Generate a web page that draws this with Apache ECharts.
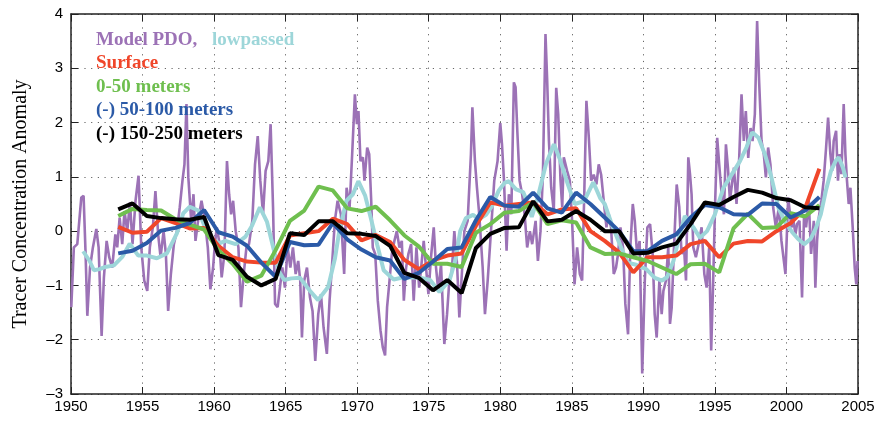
<!DOCTYPE html>
<html>
<head>
<meta charset="utf-8">
<script src="https://cdn.jsdelivr.net/npm/echarts@6/dist/echarts.min.js"></script>
<style>html,body{margin:0;padding:0;background:#fff}#c{width:878px;height:422px}</style>
</head>
<body>
<div id="c"></div>
<script>
const xTicks = [1950,1955,1960,1965,1970,1975,1980,1985,1990,1995,2000,2005];
const yTicks = [-3,-2,-1,0,1,2,3,4];

// Model PDO (monthly, read at peaks/troughs): [year, value]
const pdoPoints = [
[1950.02,-1.40],[1950.2,-0.30],[1950.44,-0.24],[1950.72,0.62],[1950.88,0.65],[1951.02,-0.42],[1951.14,-1.56],[1951.33,-0.67],[1951.53,-0.30],[1951.77,0.04],[1951.93,-0.30],[1952.14,-1.93],[1952.3,-0.85],[1952.49,-0.18],[1952.67,-0.48],[1952.88,-0.67],[1953.1,-0.06],[1953.23,-0.30],[1953.4,0.25],[1953.58,-0.24],[1953.74,0.37],[1953.93,0.00],[1954.12,0.53],[1954.3,-0.24],[1954.51,0.56],[1954.72,1.02],[1954.91,-0.30],[1955.12,-0.91],[1955.33,-1.10],[1955.51,-0.30],[1955.72,0.07],[1955.9,0.74],[1956.09,-0.06],[1956.26,-0.48],[1956.47,0.00],[1956.63,-0.42],[1956.79,-1.47],[1956.98,-0.79],[1957.19,-0.24],[1957.4,0.00],[1957.6,0.44],[1957.79,0.93],[1957.93,1.23],[1958.07,2.34],[1958.2,0.99],[1958.4,0.19],[1958.56,0.68],[1958.7,-0.18],[1958.88,0.19],[1959.12,0.56],[1959.33,0.25],[1959.56,-0.30],[1959.74,-1.07],[1959.93,-0.67],
[1960.05,-0.25],[1960.19,0.07],[1960.35,-0.18],[1960.53,-0.85],[1960.72,-0.42],[1960.9,1.29],[1961.05,0.68],[1961.19,0.31],[1961.33,0.56],[1961.51,0.00],[1961.7,-0.30],[1961.88,-1.40],[1962.07,-0.79],[1962.26,-0.30],[1962.44,-0.24],[1962.67,0.19],[1962.86,1.23],[1963.05,1.75],[1963.23,0.93],[1963.42,0.31],[1963.6,1.11],[1963.79,1.29],[1963.95,1.97],[1964.12,0.44],[1964.26,-1.34],[1964.44,-1.40],[1964.6,-1.04],[1964.77,-0.67],[1964.95,-1.04],[1965.14,-0.30],[1965.33,-0.67],[1965.51,-0.30],[1965.7,-0.79],[1965.88,-0.55],[1966.02,-0.91],[1966.14,-1.96],[1966.3,-0.91],[1966.49,-0.67],[1966.7,-1.22],[1966.88,-1.47],[1967.07,-2.39],[1967.28,-1.53],[1967.47,-1.16],[1967.65,-1.77],[1967.88,-2.26],[1968.07,-1.28],[1968.26,-0.55],[1968.44,0.19],[1968.63,0.56],[1968.86,0.31],[1969.09,-0.79],[1969.26,0.80],[1969.47,0.44],[1969.65,1.42],[1969.84,2.52],
[1969.98,1.97],[1970.09,2.21],[1970.23,1.29],[1970.4,1.36],[1970.51,0.93],[1970.7,1.54],[1970.84,1.42],[1970.98,0.56],[1971.09,-0.30],[1971.26,-0.42],[1971.44,-1.28],[1971.63,-1.83],[1971.79,-2.14],[1971.95,-2.29],[1972.09,-1.40],[1972.26,-0.91],[1972.42,-0.42],[1972.6,-0.18],[1972.77,0.00],[1972.95,-0.30],[1973.12,-0.18],[1973.26,-1.28],[1973.42,-0.67],[1973.58,-0.42],[1973.77,-0.24],[1973.95,-1.28],[1974.14,-0.30],[1974.33,-1.04],[1974.47,-0.67],[1974.65,-0.18],[1974.81,-0.67],[1974.98,-1.16],[1975.16,-0.48],[1975.35,0.07],[1975.51,-0.67],[1975.67,-1.10],[1975.86,-0.61],[1976.09,-2.08],[1976.28,-1.53],[1976.44,-0.91],[1976.6,-0.79],[1976.79,0.00],[1976.98,-0.61],[1977.14,-1.59],[1977.3,-0.85],[1977.49,0.00],[1977.72,0.19],[1977.95,1.42],[1978.05,2.28],[1978.23,1.29],[1978.37,0.80],[1978.53,0.31],[1978.77,-0.67],[1978.93,-1.53],[1979.12,-0.91],[1979.35,0.00],[1979.58,0.93],[1979.81,1.29],
[1980.0,1.99],[1980.12,1.60],[1980.26,0.93],[1980.44,-0.36],[1980.6,0.68],[1980.77,0.31],[1980.95,2.74],[1981.07,2.65],[1981.19,1.85],[1981.35,0.93],[1981.53,0.68],[1981.7,0.31],[1981.88,-0.30],[1982.07,0.00],[1982.23,-0.24],[1982.47,0.19],[1982.63,-0.55],[1982.81,0.00],[1982.98,1.04],[1983.16,3.63],[1983.28,2.76],[1983.4,1.66],[1983.56,0.80],[1983.74,0.37],[1983.91,2.64],[1984.05,2.15],[1984.21,0.93],[1984.33,0.44],[1984.44,1.36],[1984.67,1.11],[1984.86,0.93],[1985.02,0.19],[1985.19,-0.98],[1985.37,-0.30],[1985.56,-0.79],[1985.72,-0.91],[1985.88,0.80],[1986.02,2.40],[1986.19,1.72],[1986.35,0.93],[1986.53,1.04],[1986.72,0.86],[1986.88,1.23],[1987.05,1.04],[1987.23,0.56],[1987.42,0.07],[1987.58,0.31],[1987.74,0.07],[1987.93,-0.79],[1988.09,-0.67],[1988.23,-0.42],[1988.4,0.07],[1988.58,-0.30],[1988.74,-1.34],[1988.93,-1.90],[1989.09,-0.30],[1989.26,0.50],[1989.4,0.19],[1989.56,-0.42],[1989.74,-0.18],[1989.92,-2.62],
[1990.1,-0.91],[1990.28,0.07],[1990.47,0.13],[1990.65,-0.42],[1990.79,-1.53],[1990.93,-1.96],[1991.12,-0.91],[1991.28,-1.53],[1991.4,-1.10],[1991.58,-0.91],[1991.74,-0.30],[1991.86,-1.71],[1991.98,-1.41],[1992.14,-0.30],[1992.33,0.86],[1992.51,0.44],[1992.67,-0.42],[1992.84,-0.30],[1992.98,-0.91],[1993.14,1.36],[1993.26,1.05],[1993.37,0.68],[1993.49,-0.30],[1993.67,-0.48],[1993.86,-0.24],[1994.07,0.07],[1994.26,-0.79],[1994.42,-1.04],[1994.6,-0.30],[1994.74,-2.20],[1994.88,-0.91],[1995.02,0.56],[1995.16,1.72],[1995.3,1.23],[1995.47,0.68],[1995.63,0.31],[1995.77,1.60],[1995.91,1.17],[1996.05,0.56],[1996.19,0.86],[1996.33,1.17],[1996.51,0.50],[1996.7,1.36],[1996.86,2.52],[1997.02,1.66],[1997.16,2.21],[1997.33,1.35],[1997.49,1.90],[1997.63,1.66],[1997.79,2.15],[1997.95,3.87],[1998.09,2.76],[1998.26,1.66],[1998.42,1.41],[1998.56,0.99],[1998.72,1.54],[1998.88,1.23],[1999.07,0.44],[1999.26,0.07],[1999.47,0.44],[1999.65,-0.18],[1999.93,-0.79],
[2000.12,0.62],[2000.21,0.65],[2000.35,0.07],[2000.49,0.19],[2000.63,-0.06],[2000.74,0.13],[2000.91,0.19],[2001.09,-1.22],[2001.23,0.31],[2001.37,0.07],[2001.56,0.56],[2001.72,-0.42],[2001.91,0.19],[2002.02,-1.04],[2002.14,-0.18],[2002.26,0.25],[2002.44,0.56],[2002.6,0.93],[2002.77,1.54],[2002.91,2.09],[2003.07,1.42],[2003.19,1.11],[2003.3,1.66],[2003.47,1.85],[2003.6,0.93],[2003.72,1.42],[2003.84,1.05],[2004.0,2.34],[2004.12,1.42],[2004.23,0.93],[2004.35,0.50],[2004.47,0.80],[2004.63,0.07],[2004.77,-0.67],[2004.88,-0.98],[2004.97,-0.55]
];

// lowpassed Model PDO: [year, value]
const lowpassPoints = [
[1950.85,-0.37],[1951.3,-0.55],[1951.6,-0.72],[1952.0,-0.70],[1952.4,-0.66],[1953.0,-0.63],[1953.6,-0.47],[1954.1,-0.23],[1954.7,-0.45],[1955.3,-0.45],[1956.0,-0.50],[1956.7,-0.41],[1957.4,-0.04],[1957.85,0.33],[1958.3,0.45],[1958.9,0.38],[1959.35,0.08],[1959.9,-0.17],[1960.4,-0.22],[1960.8,-0.18],[1961.5,-0.24],[1962.2,-0.10],[1962.65,0.10],[1963.2,0.44],[1963.7,0.17],[1964.15,-0.32],[1964.55,-0.75],[1964.9,-0.90],[1965.4,-0.87],[1966.0,-0.86],[1966.7,-1.10],[1967.27,-1.27],[1967.97,-1.03],[1968.45,-0.50],[1968.75,0.00],[1969.25,0.56],[1969.7,0.68],[1970.08,0.92],[1970.55,0.66],[1971.0,0.19],[1971.4,-0.25],[1971.85,-0.72],[1972.55,-0.89],[1973.1,-0.86],[1973.8,-0.85],[1974.4,-0.86],[1975.1,-0.90],[1975.75,-1.12],[1976.45,-0.91],[1976.9,-0.50],[1977.2,0.00],[1977.6,0.24],[1978.1,0.30],[1978.5,0.22],[1979.0,0.30],[1979.4,0.45],[1979.9,0.75],[1980.3,0.89],[1980.6,0.92],[1981.1,0.77],[1981.6,0.72],[1981.95,0.50],[1982.2,0.26],[1982.6,0.60],[1983.2,1.24],[1983.75,1.60],[1984.2,1.30],[1984.7,0.88],[1985.2,0.50],[1985.85,0.55],[1986.5,0.90],[1987.0,0.60],[1987.3,0.50],[1987.8,0.12],[1988.35,-0.24],[1988.9,-0.58],[1989.5,-0.62],[1990.2,-0.70],[1990.8,-0.86],[1991.3,-0.91],[1991.65,-0.85],[1992.1,-0.55],[1992.55,-0.06],[1992.9,0.28],[1993.5,0.07],[1993.95,-0.12],[1994.45,0.00],[1995.0,0.31],[1995.6,0.80],[1996.05,0.99],[1996.75,1.29],[1997.2,1.54],[1997.6,1.82],[1998.05,1.72],[1998.5,1.41],[1998.95,0.99],[1999.45,0.42],[1999.95,0.15],[2000.4,-0.02],[2000.8,-0.14],[2001.25,-0.24],[2001.7,-0.14],[2002.05,0.05],[2002.4,0.31],[2002.75,0.74],[2003.1,1.10],[2003.45,1.30],[2003.65,1.36],[2003.95,1.17],[2004.13,0.99]
];

// annual tracer anomalies (plotted at year + 0.3)
const annualYears = [1953.3,1954.3,1955.3,1956.3,1957.3,1958.3,1959.3,1960.3,1961.3,1962.3,1963.3,1964.3,1965.3,1966.3,1967.3,1968.3,1969.3,1970.3,1971.3,1972.3,1973.3,1974.3,1975.3,1976.3,1977.3,1978.3,1979.3,1980.3,1981.3,1982.3,1983.3,1984.3,1985.3,1986.3,1987.3,1988.3,1989.3,1990.3,1991.3,1992.3,1993.3,1994.3,1995.3,1996.3,1997.3,1998.3,1999.3,2000.3,2001.3,2002.3];
const surface = [0.08,-0.03,-0.01,0.24,0.15,0.05,0.06,-0.27,-0.48,-0.56,-0.58,-0.58,-0.08,-0.04,0.00,0.23,0.13,-0.17,-0.07,-0.20,-0.53,-0.70,-0.54,-0.45,-0.41,0.10,0.53,0.47,0.50,0.53,0.31,0.40,0.42,0.00,-0.18,-0.39,-0.76,-0.48,-0.48,-0.45,-0.24,-0.18,-0.48,-0.23,-0.18,-0.19,0.00,0.15,0.42,1.15];
const m0_50 = [0.28,0.41,0.39,0.38,0.22,0.12,0.03,-0.35,-0.60,-0.93,-0.82,-0.35,0.19,0.38,0.82,0.75,0.42,0.37,0.45,0.20,-0.08,-0.28,-0.60,-0.60,-0.66,-0.03,0.13,0.34,0.37,0.53,0.13,0.20,0.16,-0.30,-0.42,-0.41,-0.48,-0.55,-0.67,-0.79,-0.61,-0.60,-0.76,0.05,0.32,0.06,0.07,0.33,0.27,0.48];
const m50_100 = [-0.41,-0.36,-0.22,0.01,0.06,0.15,0.39,-0.02,-0.10,-0.27,-0.58,-0.84,-0.20,-0.26,-0.25,0.15,-0.15,-0.34,-0.48,-0.54,-0.88,-0.77,-0.56,-0.33,-0.30,0.20,0.63,0.47,0.45,0.71,0.42,0.34,0.71,0.50,0.25,0.00,-0.37,-0.37,-0.18,-0.06,0.25,0.48,0.44,0.31,0.30,0.51,0.50,0.25,0.38,0.63];
const m150_250 = [0.40,0.51,0.28,0.24,0.22,0.21,0.26,-0.44,-0.53,-0.84,-1.00,-0.88,-0.04,-0.07,0.18,0.18,-0.04,-0.05,-0.09,-0.27,-0.77,-0.86,-1.09,-0.90,-1.14,-0.31,-0.05,0.06,0.07,0.55,0.18,0.21,0.37,0.21,0.00,0.00,-0.41,-0.40,-0.30,-0.23,0.13,0.53,0.48,0.63,0.76,0.71,0.61,0.57,0.44,0.42];

const legendRows = [
  {text:'Model PDO,', color:'#9c72b6'},
  {text:'lowpassed', color:'#9dd6d9'},
  {text:'Surface', color:'#f0462a'},
  {text:'0-50 meters', color:'#6fbf4f'},
  {text:'(-) 50-100 meters', color:'#2b5aa7'},
  {text:'(-) 150-250 meters', color:'#000000'}
];

const zip = (xs, ys) => xs.map((x, i) => [x, ys[i]]);
const chart = echarts.init(document.getElementById('c'), null, {renderer:'canvas'});
const gridLine = {show:true, lineStyle:{color:'#666', type:[1.2,5.5], width:1}};
const lineBase = {type:'line', symbol:'none', smooth:false, animation:false, xAxisIndex:0, yAxisIndex:0};
const legendFont = {fontFamily:'Liberation Serif', fontWeight:'bold', fontSize:19};
const legendPos = [[96,31],[212,31],[96,54],[96,78],[96,101],[96,125]];

chart.setOption({
  animation:false,
  grid:{left:71, right:20, top:14, bottom:28, show:false},
  xAxis:[{
    type:'value', min:1950, max:2005, interval:5, position:'bottom',
    axisLine:{show:true, onZero:false, lineStyle:{color:'#222', width:1.5}},
    axisTick:{show:true, inside:true, length:7, lineStyle:{color:'#222', width:1}},
    axisLabel:{color:'#000', fontFamily:'Liberation Sans', fontSize:15, margin:5, formatter:v => String(v)},
    splitLine:gridLine
  },{
    type:'value', min:1950, max:2005, interval:5, position:'top',
    axisLine:{show:true, onZero:false, lineStyle:{color:'#222', width:1.5}},
    axisTick:{show:true, inside:true, length:7, lineStyle:{color:'#222', width:1}},
    axisLabel:{show:false}, splitLine:{show:false}
  }],
  yAxis:[{
    type:'value', min:-3, max:4, interval:1, position:'left',
    name:'Tracer Concentration Anomaly', nameLocation:'middle', nameGap:40, nameRotate:90,
    nameTextStyle:{color:'#000', fontFamily:'Liberation Serif', fontSize:20},
    axisLine:{show:true, onZero:false, lineStyle:{color:'#222', width:1.5}},
    axisTick:{show:true, inside:true, length:7, lineStyle:{color:'#222', width:1}},
    axisLabel:{color:'#000', fontFamily:'Liberation Sans', fontSize:15, margin:8,
      formatter:v => (v < 0 ? '\u2013' + Math.abs(v) : String(v))},
    splitLine:gridLine
  },{
    type:'value', min:-3, max:4, interval:1, position:'right',
    axisLine:{show:true, onZero:false, lineStyle:{color:'#222', width:1.5}},
    axisTick:{show:true, inside:true, length:7, lineStyle:{color:'#222', width:1}},
    axisLabel:{show:false}, splitLine:{show:false}
  }],
  series:[
    Object.assign({}, lineBase, {name:'Model PDO', data:pdoPoints, lineStyle:{color:'#9c72b6', width:2.6}, z:1}),
    Object.assign({}, lineBase, {name:'lowpassed', data:lowpassPoints, lineStyle:{color:'#9dd6d9', width:4}, z:2}),
    Object.assign({}, lineBase, {name:'Surface', data:zip(annualYears, surface), lineStyle:{color:'#f0462a', width:4}, z:3}),
    Object.assign({}, lineBase, {name:'0-50 meters', data:zip(annualYears, m0_50), lineStyle:{color:'#6fbf4f', width:4}, z:4}),
    Object.assign({}, lineBase, {name:'(-) 50-100 meters', data:zip(annualYears, m50_100), lineStyle:{color:'#2b5aa7', width:4}, z:5}),
    Object.assign({}, lineBase, {name:'(-) 150-250 meters', data:zip(annualYears, m150_250), lineStyle:{color:'#000000', width:4}, z:6})
  ],
  graphic: legendRows.map((r, i) => ({
    type:'text', left:legendPos[i][0], top:legendPos[i][1], z:100,
    style:Object.assign({text:r.text, fill:r.color}, legendFont)
  }))
});
</script>
</body>
</html>
